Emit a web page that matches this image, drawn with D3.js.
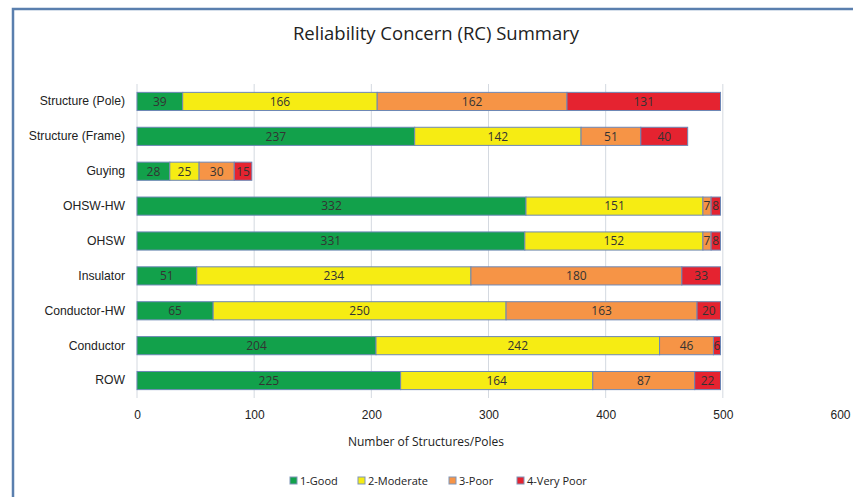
<!DOCTYPE html>
<html>
<head>
<meta charset="utf-8">
<script src="https://cdn.jsdelivr.net/npm/d3@7"></script>
<style>
  body { margin: 0; background: #fff; }
  svg { display: block; font-family: "Open Sans", "Noto Sans", sans-serif; }
</style>
</head>
<body>
<svg width="853" height="497"></svg>
<script>
(function () {

var categories = ["Structure (Pole)", "Structure (Frame)", "Guying", "OHSW-HW", "OHSW",
                  "Insulator", "Conductor-HW", "Conductor", "ROW"];
var seriesNames = ["1-Good", "2-Moderate", "3-Poor", "4-Very Poor"];
var good     = [39, 237, 28, 332, 331, 51, 65, 204, 225];
var moderate = [166, 142, 25, 151, 152, 234, 250, 242, 164];
var poor     = [162, 51, 30, 7, 7, 180, 163, 46, 87];
var veryPoor = [131, 40, 15, 8, 8, 33, 20, 6, 22];
var xTicks = [0, 100, 200, 300, 400, 500, 600];
var colors = ["#12a14b", "#f6ec13", "#f69446", "#e52330"];

var svg = d3.select('svg');

// outer frame
svg.append('path')
  .attr('d', 'M13,497 L13,9 L853,9')
  .style('fill', 'none').style('stroke', '#5a7fae').style('stroke-width', 2.5);

var left = 137, right = 840, top = 84, bottom = 398;

var rows = categories.map(function (c, i) {
  return { cat: c, vals: [good[i], moderate[i], poor[i], veryPoor[i]] };
});

var x = d3.scaleLinear().domain([0, 600]).range([left, right]);
var y = d3.scaleBand().domain(categories).range([top, bottom]).paddingInner(0.48).paddingOuter(0.24);

// title
svg.append('text')
  .attr('x', 436).attr('y', 40)
  .attr('text-anchor', 'middle')
  .style('font-size', '18.5px').style('fill', '#222')
  .text('Reliability Concern (RC) Summary');

// gridlines
svg.append('g').selectAll('line')
  .data(xTicks.slice(1, 6))
  .enter().append('line')
  .attr('x1', function (d) { return x(d); })
  .attr('x2', function (d) { return x(d); })
  .attr('y1', top).attr('y2', bottom)
  .style('stroke', '#d4d9e0').style('stroke-width', 1);

// x axis
var xAxis = d3.axisBottom(x).tickValues(xTicks).tickSize(0).tickPadding(12);
var gx = svg.append('g').attr('transform', 'translate(0,' + bottom + ')').call(xAxis);
gx.select('.domain').remove();
gx.selectAll('text').style('font-size', '12px').style('fill', '#222').style('font-family', 'inherit');

// y axis line
svg.append('line')
  .attr('x1', left).attr('x2', left).attr('y1', top).attr('y2', bottom)
  .style('stroke', '#d4d9e0');

// y labels
var yAxis = d3.axisLeft(y).tickSize(0).tickPadding(12);
var gy = svg.append('g').attr('transform', 'translate(' + left + ',0)').call(yAxis);
gy.select('.domain').remove();
gy.selectAll('text').style('font-size', '12.2px').style('fill', '#222').style('font-family', 'inherit');

// stacked bars
var stackData = rows.map(function (r) {
  var o = { cat: r.cat };
  seriesNames.forEach(function (s, j) { o[s] = r.vals[j]; });
  return o;
});
var stacked = d3.stack().keys(seriesNames)(stackData);

var layer = svg.append('g').selectAll('g')
  .data(stacked)
  .enter().append('g')
  .style('fill', function (d, i) { return colors[i]; });

layer.selectAll('rect')
  .data(function (d) { return d; })
  .enter().append('rect')
  .attr('x', function (d) { return x(d[0]); })
  .attr('width', function (d) { return x(d[1]) - x(d[0]); })
  .attr('y', function (d) { return y(d.data.cat); })
  .attr('height', y.bandwidth())
  .style('stroke', '#6d87b6').style('stroke-width', 1);

layer.selectAll('text')
  .data(function (d) { return d; })
  .enter().append('text')
  .attr('x', function (d) { return (x(d[0]) + x(d[1])) / 2; })
  .attr('y', function (d) { return y(d.data.cat) + y.bandwidth() / 2; })
  .attr('dy', '0.36em')
  .attr('text-anchor', 'middle')
  .style('font-size', '12px').style('fill', '#333')
  .text(function (d) { return d[1] - d[0]; });

// x axis title
svg.append('text')
  .attr('x', 426).attr('y', 446)
  .attr('text-anchor', 'middle')
  .style('font-size', '12px').style('fill', '#222')
  .text('Number of Structures/Poles');

// legend
var legendX = [290, 358, 449, 517];
var legend = svg.append('g').selectAll('g')
  .data(seriesNames)
  .enter().append('g')
  .attr('transform', function (d, i) { return 'translate(' + legendX[i] + ',481)'; });
legend.append('rect')
  .attr('x', 0).attr('y', -4).attr('width', 7).attr('height', 7)
  .style('fill', function (d, i) { return colors[i]; })
  .style('stroke', '#7f95b8').style('stroke-width', 1);
legend.append('text')
  .attr('x', 10).attr('y', 0).attr('dy', '0.35em')
  .style('font-size', '11px').style('fill', '#222')
  .text(function (d) { return d; });

})();
</script>
</body>
</html>
